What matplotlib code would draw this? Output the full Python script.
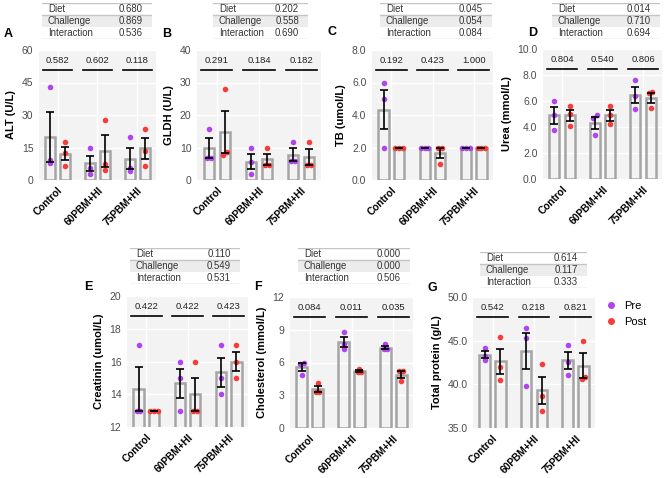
import matplotlib
matplotlib.use("Agg")
import matplotlib.pyplot as plt
from matplotlib.lines import Line2D
import numpy as np

plt.rcParams['font.family'] = ['Liberation Sans', 'DejaVu Sans']

W, H = 669, 478
groups = ["Control", "60PBM+HI", "75PBM+HI"]
anova_terms = ["Diet", "Challenge", "Interaction"]

# individual animals, per group (Control, 60PBM+HI, 75PBM+HI)
alt_pre = [[42.8, 9.2, 7.7], [14.6, 5.7, 2.6], [19.7, 5.7, 4.3]]
alt_post = [[17.5, 12.6, 6.5], [27.8, 7.5, 4.5], [23.7, 13.5, 6.5]]
alt_p = ["0.582", "0.602", "0.118"]
alt_anova = ["0.680", "0.869", "0.536"]

gldh_pre = [[15.8, 6.9, 6.9], [9.7, 5.6, 1.7], [11.8, 5.7, 5.7]]
gldh_post = [[27.9, 7.8, 8.7], [9.7, 4.7, 4.7], [11.8, 4.7, 4.7]]
gldh_p = ["0.291", "0.184", "0.182"]
gldh_anova = ["0.202", "0.558", "0.690"]

tb_pre = [[6.0, 5.0, 2.0], [2.0, 2.0, 2.0], [2.0, 2.0, 2.0]]
tb_post = [[2.0, 2.0, 2.0], [2.0, 2.0, 1.0], [2.0, 2.0, 2.0]]
tb_p = ["0.192", "0.423", "1.000"]
tb_anova = ["0.045", "0.054", "0.084"]

urea_pre = [[6.0, 4.9, 3.8], [4.9, 4.7, 3.4], [7.6, 6.4, 5.4]]
urea_post = [[5.6, 5.0, 4.1], [5.6, 4.9, 4.2], [6.7, 6.6, 5.5]]
urea_p = ["0.804", "0.540", "0.806"]
urea_anova = ["0.014", "0.710", "0.694"]

crea_pre = [[17, 13, 13], [16, 15, 13], [17, 15, 14]]
crea_post = [[13, 13, 13], [16, 13, 13], [17, 16, 15]]
crea_p = ["0.422", "0.422", "0.423"]
crea_anova = ["0.110", "0.549", "0.531"]

chol_pre = [[6.0, 5.85, 4.85], [8.8, 7.7, 7.2], [7.65, 7.2, 7.2]]
chol_post = [[4.1, 3.3, 3.3], [5.4, 5.1, 5.1], [5.2, 5.2, 4.3]]
chol_p = ["0.084", "0.011", "0.035"]
chol_anova = ["0.000", "0.000", "0.506"]

tp_pre = [[44.2, 43.2, 42.8], [46.5, 45.3, 39.8], [44.5, 42.6, 41.1]]
tp_post = [[45.4, 42.0, 40.5], [42.3, 38.7, 37.0], [45.0, 40.8, 40.6]]
tp_p = ["0.542", "0.218", "0.821"]
tp_anova = ["0.614", "0.117", "0.333"]

pre_col = "#AE45EE"
post_col = "#F73C3C"

panels = [
    dict(letter="A", ylab="ALT (U/L)", pre=alt_pre, post=alt_post, p=alt_p, anova=alt_anova,
         ticks=[0, 15, 30, 45, 60], fmt="{:.0f}", ax=(39, 50, 156, 180), tab=(42, 3, 152, 39), let=(4, 34)),
    dict(letter="B", ylab="GLDH (U/L)", pre=gldh_pre, post=gldh_post, p=gldh_p, anova=gldh_anova,
         ticks=[0, 10, 20, 30, 40], fmt="{:.0f}", ax=(197, 50, 321, 180), tab=(213, 3, 308, 39), let=(162, 34)),
    dict(letter="C", ylab="TB (umol/L)", pre=tb_pre, post=tb_post, p=tb_p, anova=tb_anova,
         ticks=[0, 2, 4, 6, 8], fmt="{:.1f}", ax=(372, 50, 493, 180), tab=(380, 3, 492, 39), let=(327, 32)),
    dict(letter="D", ylab="Urea (mmol/L)", pre=urea_pre, post=urea_post, p=urea_p, anova=urea_anova,
         ticks=[0, 2, 4, 6, 8, 10], fmt="{:.1f}", ax=(543, 49, 662, 179), tab=(552, 3, 660, 39), let=(528, 33)),
    dict(letter="E", ylab="Creatinin (umol/L)", pre=crea_pre, post=crea_post, p=crea_p, anova=crea_anova,
         ticks=[12, 14, 16, 18, 20], fmt="{:.0f}", ax=(127, 296, 248, 427), tab=(130, 248, 240, 284), let=(84, 287)),
    dict(letter="F", ylab="Cholesterol (mmol/L)", pre=chol_pre, post=chol_post, p=chol_p, anova=chol_anova,
         ticks=[0, 3, 6, 9, 12], fmt="{:.0f}", ax=(290, 297, 413, 428), tab=(298, 248, 410, 284), let=(254, 287)),
    dict(letter="G", ylab="Total protein (g/L)", pre=tp_pre, post=tp_post, p=tp_p, anova=tp_anova,
         ticks=[35, 40, 45, 50], fmt="{:.1f}", ax=(473, 297, 595, 428), tab=(480, 252, 587, 288), let=(427, 288)),
]


def rect(x0, y0, x1, y1):
    return [x0 / W, 1 - y1 / H, (x1 - x0) / W, (y1 - y0) / H]


def swarm(vals, px_per_unit, thr=3.0, step=0.09):
    # simple beeswarm: values closer than thr pixels are spread side by side
    order = np.argsort(vals)
    offs = np.zeros(len(vals))
    clusters = [[order[0]]]
    for i in order[1:]:
        if (vals[i] - vals[clusters[-1][-1]]) * px_per_unit < thr:
            clusters[-1].append(i)
        else:
            clusters.append([i])
    for c in clusters:
        n = len(c)
        for k, i in enumerate(c):
            offs[i] = (k - (n - 1) / 2) * step
    return offs


fig = plt.figure(figsize=(W / 100, H / 100), dpi=100)
xs = np.arange(1, 4)
dodge = 0.19

for pn in panels:
    ax = fig.add_axes(rect(*pn["ax"]))
    lo, hi = pn["ticks"][0], pn["ticks"][-1]
    ax.set_ylim(lo, hi)
    ax.set_xlim(0.53, 3.47)
    ax.set_facecolor("#F3F3F3")
    for s in ax.spines.values():
        s.set_visible(False)
    ax.grid(True, color="white", lw=1.0)
    ax.set_axisbelow(True)
    px_per_unit = (pn["ax"][3] - pn["ax"][1]) / (hi - lo)

    for series, sign, col in [(pn["pre"], -1, pre_col), (pn["post"], 1, post_col)]:
        arr = np.array(series, dtype=float)
        means = arr.mean(axis=1)
        se = arr.std(axis=1, ddof=1) / np.sqrt(arr.shape[1])
        xp = xs + sign * dodge
        ax.bar(xp, means, width=0.25, facecolor="none", edgecolor="#A5A5A5", lw=1.8, zorder=2)
        for j in range(3):
            offs = swarm(arr[j], px_per_unit)
            ax.scatter(xp[j] + offs, arr[j], s=16, color=col, lw=0, zorder=3)
        ax.errorbar(xp, means, yerr=se, fmt="none", ecolor="black", elinewidth=1.2,
                    capsize=2.6, capthick=1.2, zorder=4)

    yl = lo + 0.846 * (hi - lo)
    for j in range(3):
        ax.plot([xs[j] - 0.37, xs[j] + 0.37], [yl, yl], color="black", lw=1.2, zorder=5)
        ax.text(xs[j], lo + 0.885 * (hi - lo), pn["p"][j], ha="center", va="bottom",
                fontsize=6.8, color="#222222")

    ax.set_xticks(xs)
    ax.set_xticklabels(groups, rotation=45, ha="right", rotation_mode="anchor",
                       fontsize=7.3, fontweight="bold")
    ax.set_yticks(pn["ticks"])
    ax.set_yticklabels([pn["fmt"].format(t) for t in pn["ticks"]], fontsize=7.5, color="#4D4D4D")
    ax.tick_params(length=0, pad=4)
    ax.tick_params(axis="x", pad=4)
    ax.set_ylabel(pn["ylab"], fontsize=8, fontweight="bold", labelpad=4)

    # anova summary table above the panel
    tx0, ty0, tx1, ty1 = pn["tab"]
    tw = tx1 - tx0
    tax = fig.add_axes(rect(*pn["tab"]))
    tax.set_xlim(0, 1)
    tax.set_ylim(3, 0)
    tax.axis("off")
    tax.axhspan(1, 2, color="#ECECEC", lw=0)
    for yy in [0, 1, 3]:
        tax.axhline(yy, color="#C4C4C4", lw=1.0)
    for r in range(3):
        tax.text(6 / tw, r + 0.5, anova_terms[r], ha="left", va="center", fontsize=6.9, color="#333333")
        tax.text(1 - 9 / tw, r + 0.5, pn["anova"][r], ha="right", va="center", fontsize=6.9, color="#333333")

    fig.text(pn["let"][0] / W, 1 - pn["let"][1] / H, pn["letter"], fontsize=9,
             fontweight="bold", va="center", ha="left")

handles = [Line2D([], [], marker="o", ls="none", color=pre_col, markersize=4),
           Line2D([], [], marker="o", ls="none", color=post_col, markersize=4)]
fig.legend(handles, ["Pre", "Post"], loc="upper left", bbox_to_anchor=(594 / W, 1 - 291 / H),
           frameon=False, fontsize=8, handletextpad=0.6, labelspacing=0.55, handlelength=1.2)

fig.savefig("out.png", dpi=100)
